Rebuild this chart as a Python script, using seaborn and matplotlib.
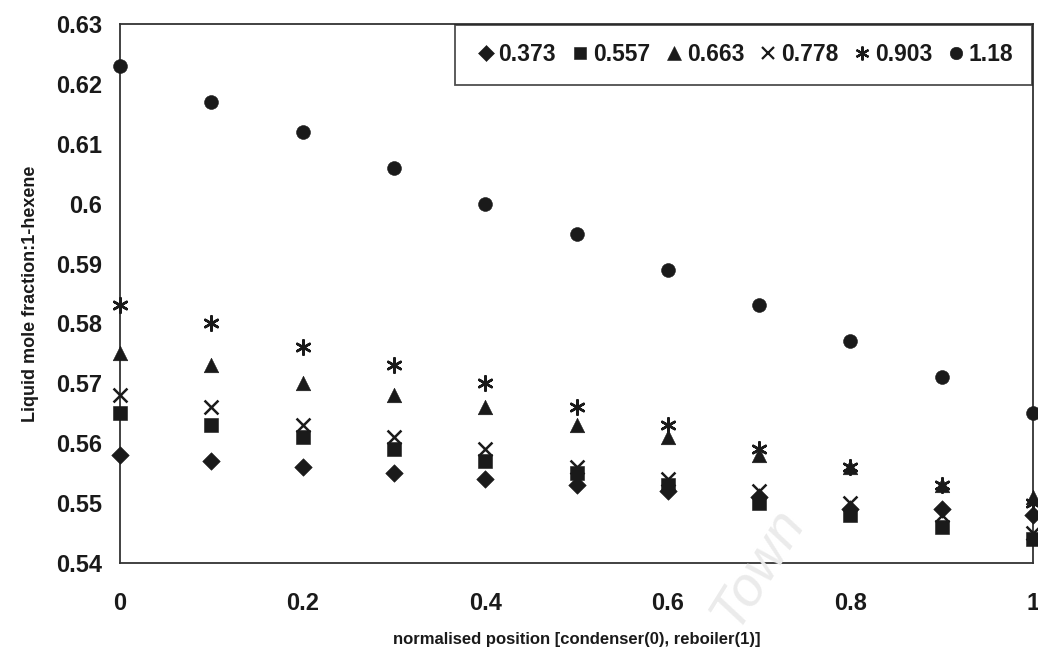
import numpy as np
import pandas as pd
import matplotlib
matplotlib.use("Agg")
import matplotlib.pyplot as plt
import seaborn as sns

positions = [0.0, 0.1, 0.2, 0.3, 0.4, 0.5, 0.6, 0.7, 0.8, 0.9, 1.0]
series_labels = ["0.373", "0.557", "0.663", "0.778", "0.903", "1.18"]
s_0373 = [0.558, 0.557, 0.556, 0.555, 0.554, 0.553, 0.552, 0.551, 0.549, 0.549, 0.548]
s_0557 = [0.565, 0.563, 0.561, 0.559, 0.557, 0.555, 0.553, 0.550, 0.548, 0.546, 0.544]
s_0663 = [0.575, 0.573, 0.570, 0.568, 0.566, 0.563, 0.561, 0.558, 0.556, 0.553, 0.551]
s_0778 = [0.568, 0.566, 0.563, 0.561, 0.559, 0.556, 0.554, 0.552, 0.550, 0.548, 0.545]
s_0903 = [0.583, 0.580, 0.576, 0.573, 0.570, 0.566, 0.563, 0.559, 0.556, 0.553, 0.550]
s_118 = [0.623, 0.617, 0.612, 0.606, 0.600, 0.595, 0.589, 0.583, 0.577, 0.571, 0.565]
x_ticks = [0, 0.2, 0.4, 0.6, 0.8, 1.0]
x_ticklabels = ["0", "0.2", "0.4", "0.6", "0.8", "1"]
y_ticks = [0.54, 0.55, 0.56, 0.57, 0.58, 0.59, 0.60, 0.61, 0.62, 0.63]
y_ticklabels = ["0.54", "0.55", "0.56", "0.57", "0.58", "0.59", "0.6", "0.61", "0.62", "0.63"]

all_series = [s_0373, s_0557, s_0663, s_0778, s_0903, s_118]
rows = []
for lab, vals in zip(series_labels, all_series):
    for p, v in zip(positions, vals):
        rows.append({"pos": p, "frac": v, "series": lab})
df = pd.DataFrame(rows)

sns.set_theme(style="white")
plt.rcParams["font.family"] = ["Liberation Sans", "DejaVu Sans"]

fig = plt.figure(figsize=(10.38, 6.56), dpi=100)
# axes: left x=120px, right x=1033px, top y=24px, bottom y=563px
ax = fig.add_axes([120 / 1038, 1 - 563 / 656, 913 / 1038, 539 / 656])

markers = {"0.373": "D", "0.557": "s", "0.663": "^", "0.778": "x",
           "0.903": (6, 2, 0), "1.18": "o"}
sizes = {"0.373": 80, "0.557": 100, "0.663": 110, "0.778": 100, "0.903": 110, "1.18": 100}
leg_ms = {"0.373": 8, "0.557": 9, "0.663": 10, "0.778": 9, "0.903": 10, "1.18": 9}
col = "#1a1a1a"

handles = []
for lab in series_labels:
    sub = df[df["series"] == lab]
    m = markers[lab]
    lined = m == "x" or isinstance(m, tuple)
    sns.scatterplot(data=sub, x="pos", y="frac", marker=m, s=sizes[lab],
                    color=col, edgecolor=col if not lined else None,
                    linewidth=1.8 if lined else 0.4, ax=ax, legend=False,
                    zorder=3, clip_on=False)
    h = plt.Line2D([], [], linestyle="none", marker=m, color=col,
                   markersize=leg_ms[lab],
                   markeredgewidth=1.6 if lined else 0.4)
    handles.append(h)

ax.set_xlim(0, 1.0)
ax.set_ylim(0.54, 0.63)
ax.set_xticks(x_ticks)
ax.set_xticklabels(x_ticklabels)
ax.set_yticks(y_ticks)
ax.set_yticklabels(y_ticklabels)
ax.tick_params(axis="both", direction="out", length=5, width=1.2, color="#222222",
               labelsize=17, labelcolor="#1a1a1a")
for t in ax.get_xticklabels() + ax.get_yticklabels():
    t.set_fontweight("bold")
ax.tick_params(axis="x", pad=16)
ax.tick_params(axis="y", pad=8)
for sp in ax.spines.values():
    sp.set_visible(True)
    sp.set_color("#333333")
    sp.set_linewidth(1.3)

ax.set_xlabel("normalised position [condenser(0), reboiler(1)]", fontsize=12,
              fontweight="bold", color="#1a1a1a", labelpad=12)
ax.set_ylabel("Liquid mole fraction:1-hexene", fontsize=13,
              fontweight="bold", color="#1a1a1a", labelpad=12)

leg = ax.legend(handles, series_labels, loc="upper right", ncol=6,
                frameon=True, fancybox=False, fontsize=16.5,
                handletextpad=0.0, columnspacing=0.5, handlelength=1.1,
                borderpad=0.8, borderaxespad=0.05)
leg.get_frame().set_edgecolor("#222222")
leg.get_frame().set_linewidth(1.3)
for t in leg.get_texts():
    t.set_color("#1a1a1a")
    t.set_fontweight("bold")

fig.text(0.73, 0.135, "Town", fontsize=40, rotation=58, color="#ebebeb",
         style="italic", ha="center", va="center", zorder=0)

fig.savefig("out.png", dpi=100)
